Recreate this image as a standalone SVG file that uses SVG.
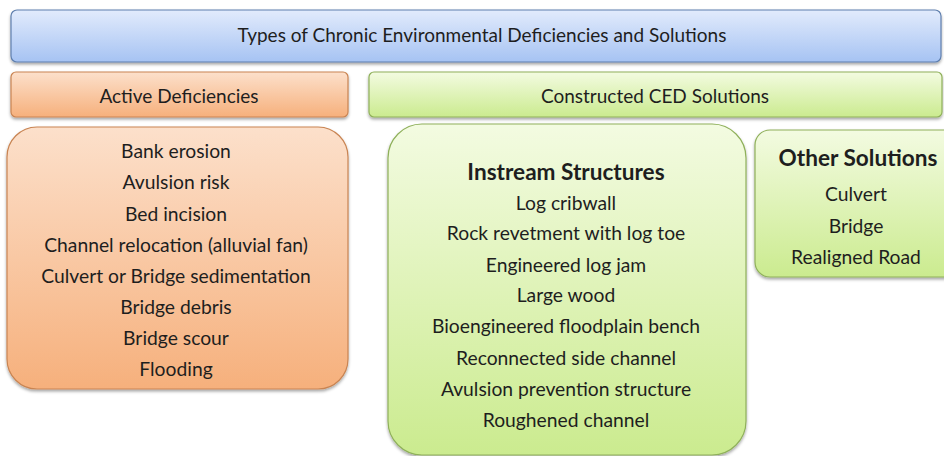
<svg xmlns="http://www.w3.org/2000/svg" width="944" height="456" viewBox="0 0 944 456">
<style>
text{font-family:"Lato","Open Sans","Liberation Sans",sans-serif;fill:#1e1e1e;text-anchor:middle;dominant-baseline:central}
.h{font-size:19px}
.t{font-size:19.3px}
.b{font-size:22.6px;font-weight:bold}
</style>
<defs>
<linearGradient id="gb" x1="0" y1="0" x2="0" y2="1"><stop offset="0" stop-color="#e2ebfc"/><stop offset="1" stop-color="#a6c3f3"/></linearGradient>
<linearGradient id="go" x1="0" y1="0" x2="0" y2="1"><stop offset="0" stop-color="#fce0cb"/><stop offset="1" stop-color="#f6b07c"/></linearGradient>
<linearGradient id="gg" x1="0" y1="0" x2="0" y2="1"><stop offset="0" stop-color="#f3fbe1"/><stop offset="1" stop-color="#cbeb8f"/></linearGradient>
<filter id="sh" x="-5%" y="-5%" width="110%" height="120%"><feDropShadow dx="0" dy="2" stdDeviation="1.5" flood-color="#000" flood-opacity="0.35"/></filter>
</defs>
<g id="title"><rect x="11" y="10" width="930" height="52" rx="6" fill="url(#gb)" stroke="#5f7fae" stroke-width="1.2" filter="url(#sh)"/><text class="h" x="482" y="34">Types of Chronic Environmental Deficiencies and Solutions</text></g>
<g id="active-header"><rect x="11" y="72" width="337" height="45" rx="5" fill="url(#go)" stroke="#c98452" stroke-width="1.2" filter="url(#sh)"/><text class="h" x="179" y="95">Active Deficiencies</text></g>
<g id="constructed-header"><rect x="369" y="72" width="573" height="45" rx="5" fill="url(#gg)" stroke="#8fb05a" stroke-width="1.2" filter="url(#sh)"/><text class="h" x="655" y="95">Constructed CED Solutions</text></g>
<g id="active-list"><rect x="7" y="127" width="341" height="262" rx="30" fill="url(#go)" stroke="#c98452" stroke-width="1.2" filter="url(#sh)"/>
<text class="t" x="176" y="150">Bank erosion</text>
<text class="t" x="176" y="181">Avulsion risk</text>
<text class="t" x="176" y="213">Bed incision</text>
<text class="t" x="176" y="244">Channel relocation (alluvial fan)</text>
<text class="t" x="176" y="275">Culvert or Bridge sedimentation</text>
<text class="t" x="176" y="306">Bridge debris</text>
<text class="t" x="176" y="337">Bridge scour</text>
<text class="t" x="176" y="368">Flooding</text></g>
<g id="instream"><rect x="388" y="124" width="358" height="331" rx="34" fill="url(#gg)" stroke="#8fb05a" stroke-width="1.2" filter="url(#sh)"/>
<text class="b" x="566" y="171">Instream Structures</text>
<text class="t" x="566" y="202">Log cribwall</text>
<text class="t" x="566" y="232">Rock revetment with log toe</text>
<text class="t" x="566" y="264">Engineered log jam</text>
<text class="t" x="566" y="294">Large wood</text>
<text class="t" x="566" y="325">Bioengineered floodplain bench</text>
<text class="t" x="566" y="357">Reconnected side channel</text>
<text class="t" x="566" y="388">Avulsion prevention structure</text>
<text class="t" x="566" y="419">Roughened channel</text></g>
<g id="other"><rect x="755" y="130" width="210" height="147" rx="15" fill="url(#gg)" stroke="#8fb05a" stroke-width="1.2" filter="url(#sh)"/>
<text class="b" x="858" y="157">Other Solutions</text>
<text class="t" x="856" y="193">Culvert</text>
<text class="t" x="856" y="225">Bridge</text>
<text class="t" x="856" y="256">Realigned Road</text></g>
<g id="connectors"/>
</svg>
